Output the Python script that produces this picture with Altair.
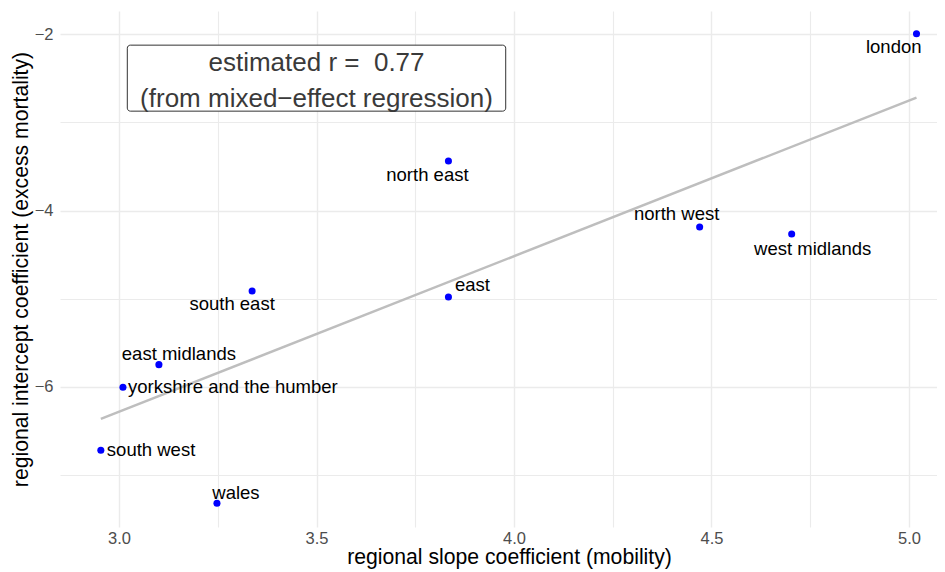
import altair as alt
import pandas as pd

# ---- data ----
regions = ["london", "north east", "north west", "west midlands", "east",
           "south east", "east midlands", "yorkshire and the humber",
           "south west", "wales"]
slope = [5.019, 3.834, 4.470, 4.703, 3.834, 3.337, 3.101, 3.010, 2.954, 3.248]
intercept = [-1.996, -3.439, -4.187, -4.266, -4.980, -4.912, -5.747, -6.004,
             -6.718, -7.318]

x_ticks = [3.0, 3.25, 3.5, 3.75, 4.0, 4.25, 4.5, 4.75, 5.0]
y_ticks = [-7, -6, -5, -4, -3, -2]

annot_x = [3.5]
annot_y = [-2.5]
annot_text = ["estimated r = \u00a00.77\n(from mixed\u2212effect regression)"]

x_title = "regional slope coefficient (mobility)"
y_title = "regional intercept coefficient (excess mortality)"

df = pd.DataFrame({"region": regions, "slope": slope, "intercept": intercept})
adf = pd.DataFrame({"x": annot_x, "y": annot_y, "label": annot_text})

# label placement relative to the point (align, dx, dy)
label_style = {
    "london": ("right", 5, 13),
    "north east": ("center", -21, 14),
    "north west": ("center", -23, -13),
    "west midlands": ("center", 21, 15),
    "east": ("center", 24, -12),
    "south east": ("center", -20, 13),
    "east midlands": ("center", 20, -11),
    "yorkshire and the humber": ("left", 5, 0),
    "south west": ("left", 6, 0),
    "wales": ("center", 19, -10),
}

FONT = "Liberation Sans"

x_scale = alt.Scale(domain=[2.8506, 5.0709], nice=False, zero=False)
y_scale = alt.Scale(domain=[-7.587, -1.739], nice=False, zero=False)

x_axis = alt.Axis(
    values=x_ticks, grid=True, ticks=False, domain=False,
    labelExpr="(datum.value*2) % 1 == 0 ? format(datum.value, '.1f') : ''",
    gridColor="#ebebeb",
    gridWidth={"condition": {"test": "(datum.value*2) % 1 == 0", "value": 1.4}, "value": 1.1},
    labelFont=FONT, labelFontSize=16.5, labelColor="#4d4d4d", labelPadding=3,
    title=x_title, titleFont=FONT, titleFontSize=21.2, titleFontWeight="normal",
    titleColor="#000000", titlePadding=0, titleX=449,
)
y_axis = alt.Axis(
    values=y_ticks, grid=True, ticks=False, domain=False,
    labelExpr="datum.value % 2 == 0 ? '\u2212' + abs(datum.value) : ''",
    gridColor="#ebebeb",
    gridWidth={"condition": {"test": "datum.value % 2 == 0", "value": 1.4}, "value": 1.1},
    labelFont=FONT, labelFontSize=16.5, labelColor="#4d4d4d", labelPadding=7,
    title=y_title, titleFont=FONT, titleFontSize=21.2, titleFontWeight="normal",
    titleColor="#000000", titlePadding=3,
)

base = alt.Chart(df)

points = base.mark_point(filled=True, color="#0000ff", size=50, opacity=1).encode(
    x=alt.X("slope:Q", scale=x_scale, axis=x_axis),
    y=alt.Y("intercept:Q", scale=y_scale, axis=y_axis),
)

reg_line = base.transform_regression("slope", "intercept").mark_line(
    color="#bebebe", strokeWidth=2.5
).encode(
    x=alt.X("slope:Q", scale=x_scale),
    y=alt.Y("intercept:Q", scale=y_scale),
)

label_layers = []
for name, (align, dx, dy) in label_style.items():
    label_layers.append(
        base.transform_filter(alt.datum.region == name).mark_text(
            align=align, baseline="middle", dx=dx, dy=dy,
            font=FONT, fontSize=18.5, color="#000000"
        ).encode(
            x=alt.X("slope:Q", scale=x_scale),
            y=alt.Y("intercept:Q", scale=y_scale),
            text="region:N",
        )
    )

# rounded label box (symbol path spanning [-1,1] in x)
r = 0.016
h = 0.1744
box_path = (
    f"M{-1 + r},{-h} H{1 - r} A{r},{r} 0 0 1 1,{-h + r} V{h - r} "
    f"A{r},{r} 0 0 1 {1 - r},{h} H{-1 + r} A{r},{r} 0 0 1 -1,{h - r} "
    f"V{-h + r} A{r},{r} 0 0 1 {-1 + r},{-h} Z"
)
box = alt.Chart(adf).mark_point(
    shape=box_path, size=378.4 ** 2, filled=False, fill="#ffffff", fillOpacity=1,
    stroke="#333333", strokeWidth=1, opacity=1
).encode(
    x=alt.X("x:Q", scale=x_scale),
    y=alt.Y("y:Q", scale=y_scale),
)
box_text = alt.Chart(adf).mark_text(
    font=FONT, fontSize=26, lineBreak="\n", lineHeight=36, color="#3a3a3a",
    align="center", baseline="middle", dy=-15
).encode(
    x=alt.X("x:Q", scale=x_scale),
    y=alt.Y("y:Q", scale=y_scale),
    text="label:N",
)

chart = alt.layer(reg_line, points, *label_layers, box, box_text).properties(
    width=877, height=516,
    padding={"left": 52, "top": 3, "right": 0, "bottom": 44},
    autosize=alt.AutoSizeParams(type="none"),
    background="#ffffff",
).configure_view(stroke=None)

chart.save("out.html", embed_options={"renderer": "svg", "actions": False})
